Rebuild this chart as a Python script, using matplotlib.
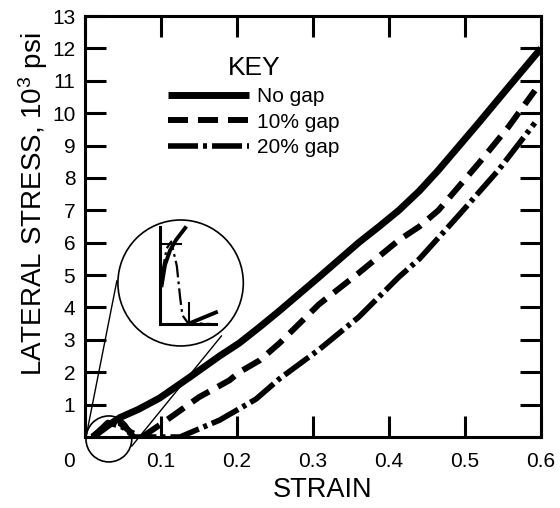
import matplotlib
matplotlib.use("Agg")
import matplotlib.pyplot as plt
from matplotlib.patches import Ellipse
from matplotlib.transforms import ScaledTranslation

plt.rcParams['font.family'] = ['Liberation Sans', 'DejaVu Sans']
plt.rcParams['mathtext.fontset'] = 'custom'
plt.rcParams['mathtext.rm'] = 'Liberation Sans'
plt.rcParams['mathtext.it'] = 'Liberation Sans'
plt.rcParams['lines.scale_dashes'] = False

# ---- data ----
nogap_x = [0.01, 0.03, 0.046, 0.07, 0.098, 0.138, 0.177, 0.203, 0.23, 0.256,
           0.308, 0.36, 0.387, 0.413, 0.44, 0.465, 0.518, 0.557, 0.6]
nogap_y = [0.0, 0.35, 0.6, 0.85, 1.2, 1.85, 2.5, 2.9, 3.4, 3.9,
           4.94, 6.0, 6.5, 7.0, 7.6, 8.24, 9.7, 10.8, 12.0]

gap10_x = [0.01, 0.03, 0.045, 0.06, 0.075, 0.102, 0.15, 0.19, 0.203, 0.23,
           0.256, 0.308, 0.36, 0.413, 0.44, 0.465, 0.518, 0.557, 0.592]
gap10_y = [0.0, 0.4, 0.45, 0.15, 0.0, 0.43, 1.23, 1.75, 2.0, 2.37,
           2.9, 4.1, 5.06, 6.08, 6.5, 7.0, 8.45, 9.57, 10.7]

gap20_x = [0.01, 0.03, 0.05, 0.065, 0.125, 0.177, 0.225, 0.256, 0.308, 0.36,
           0.413, 0.44, 0.49, 0.544, 0.592]
gap20_y = [0.0, 0.45, 0.3, 0.0, 0.0, 0.52, 1.17, 1.8, 2.7, 3.7,
           4.94, 5.5, 6.8, 8.24, 9.7]

labels = ["No gap", "10% gap", "20% gap"]

# magnified view near the origin (inset, normalised units)
inset_nogap_x = [0.03, 0.09, 0.18, 0.29, 0.45]
inset_nogap_y = [0.40, 0.61, 0.76, 0.87, 0.99]
inset_gap20_x = [0.03, 0.12, 0.2, 0.3, 0.34, 0.36, 0.4, 0.5, 0.9]
inset_gap20_y = [0.50, 0.78, 0.85, 0.6, 0.38, 0.27, 0.09, 0.01, 0.0]
inset_gap10_x = [0.54, 1.0]
inset_gap10_y = [0.01, 0.12]

xticks = [0, 0.1, 0.2, 0.3, 0.4, 0.5, 0.6]
xticklabels = ["0", "0.1", "0.2", "0.3", "0.4", "0.5", "0.6"]
yticks = list(range(0, 14))
yticklabels = [""] + [str(v) for v in range(1, 14)]

# ---- figure ----
fig = plt.figure(figsize=(5.6, 5.08), dpi=100)
ax = fig.add_axes([85/560, 71/508, 456/560, 421/508])

dash10 = (0, (14.4, 7.2))
dash20 = (0, (21.6, 3.6, 2.9, 3.6))

l1, = ax.plot(nogap_x, nogap_y, color='black', lw=5.0, solid_capstyle='butt',
              label=labels[0])
l2, = ax.plot(gap10_x, gap10_y, color='black', lw=4.3, linestyle=dash10,
              dash_capstyle='butt', label=labels[1])
l3, = ax.plot(gap20_x, gap20_y, color='black', lw=4.0, linestyle=dash20,
              dash_capstyle='butt', label=labels[2])

ax.set_xlim(0, 0.6)
ax.set_ylim(0, 13)
ax.set_xticks(xticks)
ax.set_xticklabels(xticklabels)
ax.set_yticks(yticks)
ax.set_yticklabels(yticklabels)
ax.tick_params(direction='in', length=15, width=2.2, labelsize=15,
               top=True, right=True, pad=7)
ax.tick_params(axis='x', pad=11)
for s in ax.spines.values():
    s.set_linewidth(2.2)

# shared "0" label shifted left
offset = ScaledTranslation(-16/100, 0, fig.dpi_scale_trans)
lab0 = ax.get_xticklabels()[0]
lab0.set_transform(lab0.get_transform() + offset)

ax.set_xlabel("STRAIN", fontsize=19.5)
ax.xaxis.set_label_coords(0.52, -0.095)
ax.set_ylabel("LATERAL STRESS, 10$^3$ psi", fontsize=20)
ax.yaxis.set_label_coords(-0.076, 0.553)

leg = ax.legend(handles=[l1, l2, l3], title="KEY", frameon=False,
                fontsize=15, title_fontsize=19, loc='upper left',
                bbox_to_anchor=(0.1496, 0.939), borderaxespad=0, borderpad=0.7,
                handlelength=3.9, handletextpad=0.4, labelspacing=0.32)

# ---- magnifier annotation ----
ax.add_patch(Ellipse((0.1258, 4.756), 0.165, 3.89, fill=False, lw=1.2,
                     color='black', clip_on=False))
ax.add_patch(Ellipse((0.0314, -0.06), 0.0603, 1.42, fill=False, lw=1.2,
                     color='black', clip_on=False))
ax.plot([0.0013, 0.0419], [0.0, 4.82], color='black', lw=1.0, clip_on=False)
ax.plot([0.0616, 0.1795], [-0.28, 3.12], color='black', lw=1.0, clip_on=False)

ins = fig.add_axes([160/560, (508-324)/508, 56/560, 97/508])
ins.patch.set_alpha(0)
ins.set_xlim(0, 1)
ins.set_ylim(0, 1)
for k in ['top', 'right']:
    ins.spines[k].set_visible(False)
for k in ['left', 'bottom']:
    ins.spines[k].set_linewidth(2.2)
ins.set_xticks([0.52])
ins.set_yticks([0.825])
ins.set_xticklabels([])
ins.set_yticklabels([])
ins.tick_params(direction='in', length=16, width=1.5)
ins.plot(inset_nogap_x, inset_nogap_y, color='black', lw=2.8, clip_on=False)
ins.plot(inset_gap20_x, inset_gap20_y, color='black', lw=1.6,
         linestyle=(0, (12, 3, 2, 3)), clip_on=False)
ins.plot(inset_gap10_x, inset_gap10_y, color='black', lw=2.8, clip_on=False)

fig.savefig("out.png", dpi=100)
